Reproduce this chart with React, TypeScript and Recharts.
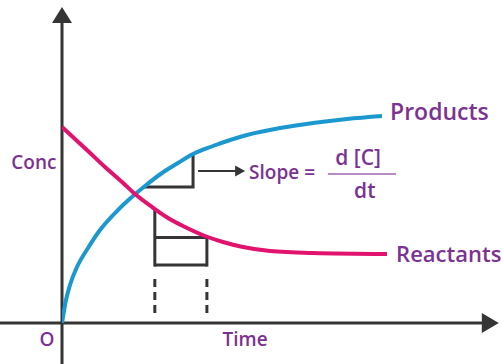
import { LineChart, Line, XAxis, YAxis, ReferenceLine, ReferenceDot } from 'recharts';

// time / concentration readings (t: 1 unit = 42px, c: 1 unit = 30px)
const productT = [0, 0.095, 0.19, 0.357, 0.619, 0.905, 1.333, 1.69, 1.976, 2.381, 2.762, 3.119, 3.595, 4.405, 5.19, 5.976, 6.786, 7.619];
const productC = [0, 0.767, 1.267, 1.867, 2.5, 3.1, 3.767, 4.233, 4.567, 5.0, 5.333, 5.633, 5.9, 6.267, 6.5, 6.667, 6.8, 6.9];

const reactantT = [0, 0.31, 0.619, 1.024, 1.429, 1.738, 2.143, 2.524, 2.929, 3.405, 3.833, 4.31, 4.952, 5.976, 7.738];
const reactantC = [6.533, 6.133, 5.733, 5.2, 4.7, 4.3, 3.867, 3.5, 3.2, 2.9, 2.7, 2.533, 2.4, 2.333, 2.3];

const products = productT.map((t, i) => ({ t, c: productC[i] }));
const reactants = reactantT.map((t, i) => ({ t, c: reactantC[i] }));

// slope triangle on the products curve
const slopeTri = [
  { t: 1.93, c: 4.53 },
  { t: 3.12, c: 4.53 },
  { t: 3.12, c: 5.67 },
];

// step box under the reactants curve
const boxLeft = 2.21;
const boxRight = 3.45;
const boxTop = 3.77;
const boxMid = 2.85;
const boxBottom = 1.93;
const dashTop = 1.47;
const dashBottom = 0.23;

const PURPLE = '#7b3292';
const BLUE = '#1b98d0';
const PINK = '#e2136e';
const DARK = '#353535';
const FONT = '"Open Sans", sans-serif';

const arrow = (len: number, half: number) => (props: any) => {
  const { x1, y1, x2, y2, stroke, strokeWidth } = props;
  const L = Math.hypot(x2 - x1, y2 - y1) || 1;
  const ux = (x2 - x1) / L;
  const uy = (y2 - y1) / L;
  const bx = x2 - ux * len;
  const by = y2 - uy * len;
  const pts = `${x2},${y2} ${bx - uy * half},${by + ux * half} ${bx + uy * half},${by - ux * half}`;
  return (
    <g>
      <line x1={x1} y1={y1} x2={bx + ux} y2={by + uy} stroke={stroke} strokeWidth={strokeWidth} />
      <polygon points={pts} fill={stroke} />
    </g>
  );
};

const txt = (value: string, size: number, position: any = 'center', offset = 0) => ({
  value,
  position,
  offset,
  fill: PURPLE,
  fontSize: size,
  fontWeight: 600,
  fontFamily: FONT,
});

export default function App() {
  return (
    <div style={{ position: 'absolute', left: 0, top: 0, width: 502, height: 364, background: '#fff' }}>
      <LineChart width={502} height={364} margin={{ top: 23, right: 20, bottom: 41, left: 62 }}>
        <XAxis type="number" dataKey="t" domain={[0, 10]} hide allowDataOverflow />
        <YAxis type="number" domain={[0, 10]} hide allowDataOverflow />

        {/* axes with arrow heads */}
        <ReferenceLine segment={[{ x: -1.5, y: 0 }, { x: 10.4, y: 0 }]} stroke={DARK} strokeWidth={3} ifOverflow="visible" shape={arrow(17, 10)} />
        <ReferenceLine segment={[{ x: 0, y: -1.4 }, { x: 0, y: 10.53 }]} stroke={DARK} strokeWidth={3} ifOverflow="visible" shape={arrow(16, 10)} />

        {/* slope triangle + arrow */}
        <Line data={slopeTri} dataKey="c" type="linear" stroke={DARK} strokeWidth={3} dot={false} isAnimationActive={false} />
        <ReferenceLine segment={[{ x: 3.24, y: 5.07 }, { x: 4.36, y: 5.07 }]} stroke={DARK} strokeWidth={2} ifOverflow="visible" shape={arrow(10, 5.5)} />

        {/* box and dashed drop lines */}
        <ReferenceLine segment={[{ x: boxLeft, y: boxTop }, { x: boxLeft, y: boxBottom - 0.05 }]} stroke={DARK} strokeWidth={3} />
        <ReferenceLine segment={[{ x: boxRight, y: boxMid }, { x: boxRight, y: boxBottom - 0.05 }]} stroke={DARK} strokeWidth={3} />
        <ReferenceLine segment={[{ x: boxLeft, y: boxMid }, { x: boxRight, y: boxMid }]} stroke={DARK} strokeWidth={3} />
        <ReferenceLine segment={[{ x: boxLeft, y: boxBottom }, { x: boxRight, y: boxBottom }]} stroke={DARK} strokeWidth={3} />
        <ReferenceLine segment={[{ x: boxLeft, y: dashTop }, { x: boxLeft, y: dashBottom }]} stroke={DARK} strokeWidth={3} strokeDasharray="8 5" />
        <ReferenceLine segment={[{ x: boxRight, y: dashTop }, { x: boxRight, y: dashBottom }]} stroke={DARK} strokeWidth={3} strokeDasharray="8 5" />

        {/* curves */}
        <Line data={products} dataKey="c" type="monotone" stroke={BLUE} strokeWidth={4} dot={false} isAnimationActive={false} />
        <Line data={reactants} dataKey="c" type="monotone" stroke={PINK} strokeWidth={4} dot={false} isAnimationActive={false} />

        {/* fraction bar */}
        <ReferenceLine segment={[{ x: 6.33, y: 4.97 }, { x: 7.95, y: 4.97 }]} stroke="#b68cc4" strokeWidth={2} />

        {/* labels */}
        <ReferenceDot x={7.62} y={7.03} r={0} fill="none" stroke="none" label={txt('Products', 23, 'right', 8)} />
        <ReferenceDot x={7.74} y={2.3} r={0} fill="none" stroke="none" label={txt('Reactants', 22, 'right', 9)} />
        <ReferenceDot x={-0.67} y={5.37} r={0} fill="none" stroke="none" ifOverflow="visible" label={txt('Conc', 19)} />
        <ReferenceDot x={-0.36} y={-0.53} r={0} fill="none" stroke="none" ifOverflow="visible" label={txt('O', 19)} />
        <ReferenceDot x={4.36} y={-0.53} r={0} fill="none" stroke="none" ifOverflow="visible" label={txt('Time', 19)} />
        <ReferenceDot x={5.24} y={5.03} r={0} fill="none" stroke="none" label={txt('Slope =', 19)} />
        <ReferenceDot x={7.05} y={5.53} r={0} fill="none" stroke="none" label={txt('d [C]', 21)} />
        <ReferenceDot x={7.21} y={4.43} r={0} fill="none" stroke="none" label={txt('dt', 21)} />
      </LineChart>
    </div>
  );
}
